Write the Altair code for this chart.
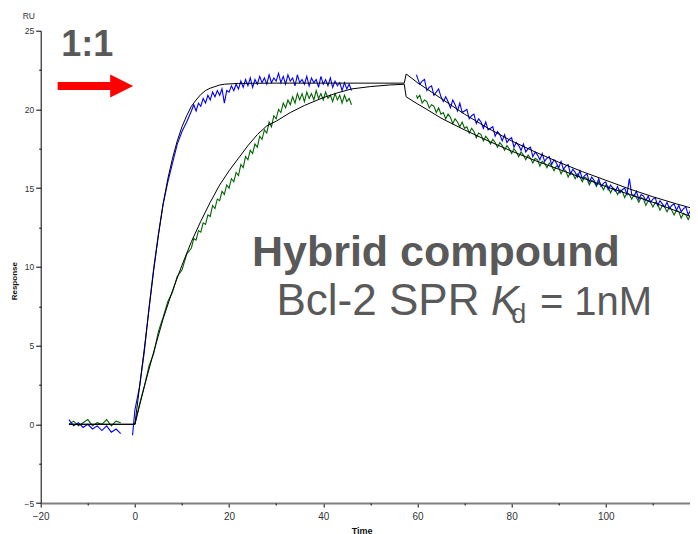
import altair as alt
import pandas as pd

# ---------------- axes ----------------
X_DOMAIN = [-20, 120]
Y_DOMAIN = [-5, 25]
x_major = [-20, 0, 20, 40, 60, 80, 100, 120]
x_minor = [-10, 10, 30, 50, 70, 90, 110]
y_major = [-5, 0, 5, 10, 15, 20, 25]
y_minor = [-2.5, 2.5, 7.5, 12.5, 17.5, 22.5]

# ---------------- measured sensorgram (blue) ----------------
blue_base_t = list(range(-14, -2))
blue_base_v = [0.3, -0.1, 0.1, -0.2, 0.0, -0.3, -0.1, -0.4, -0.1, -0.5, -0.3, -0.6]

blue_rise_t = [-0.5] + list(range(0, 13))
blue_rise_v = [-0.7, 0.9, 2.4, 4.6, 7.4, 9.9, 12.1, 14.0, 15.4, 16.6, 17.8, 18.6,
               19.2, 19.9]

blue_plateau_t = [12.5 + 0.5 * k for k in range(68)]
blue_plateau_v = [20.3, 19.9, 20.4, 20.2, 20.7, 20.4, 20.9, 20.6, 21.1, 20.8,
                  21.2, 20.9, 21.3, 20.4, 21.2, 21.1, 21.5, 21.2, 21.6, 21.3,
                  21.8, 21.4, 21.9, 21.5, 22.0, 21.4, 21.9, 21.6, 22.1, 21.7,
                  22.0, 21.6, 22.2, 21.7, 22.0, 21.8, 22.3, 21.7, 22.1, 21.6,
                  22.2, 21.8, 22.0, 21.5, 22.2, 21.7, 21.9, 21.6, 22.1, 21.5,
                  22.0, 21.7, 21.9, 21.4, 22.1, 21.6, 21.9, 21.5, 22.0, 21.4,
                  21.8, 21.5, 21.7, 21.2, 21.7, 21.3, 21.6, 21.2]

blue_dis_t = [59.8] + [60 + 0.5 * k for k in range(117)]
blue_dis_v = [22.2, 22.0, 21.6, 21.8, 21.9, 21.2, 21.4, 21.5, 20.9, 21.1,
              21.3, 20.8, 20.5, 20.8, 20.5, 20.1, 20.6, 20.3, 19.9, 20.4,
              19.8, 19.9, 20.0, 19.4, 19.6, 19.7, 19.1, 19.4, 19.2, 18.8,
              19.2, 18.7, 18.8, 18.9, 18.3, 18.6, 18.4, 18.0, 18.4, 17.9,
              18.1, 18.2, 17.6, 17.9, 17.7, 17.4, 17.8, 17.3, 17.5, 17.6,
              17.0, 17.3, 17.1, 16.8, 17.2, 16.7, 16.9, 17.0, 16.5, 16.8,
              16.6, 16.3, 16.7, 16.2, 16.4, 16.5, 15.9, 16.2, 16.0, 15.7,
              16.1, 15.6, 15.8, 15.9, 15.4, 15.7, 15.5, 15.2, 15.6, 15.1,
              15.3, 15.4, 14.9, 15.2, 15.0, 14.8, 15.1, 14.7, 14.9, 15.0,
              14.6, 15.6, 14.6, 14.5, 14.8, 14.3, 14.6, 14.5, 14.2, 14.5,
              14.1, 14.3, 14.4, 13.9, 14.2, 14.0, 13.8, 14.1, 13.7, 13.9,
              14.0, 13.6, 13.9, 13.5, 13.7, 13.8, 13.3, 13.6]

# ---------------- measured sensorgram (green) ----------------
green_base_t = list(range(-14, -2))
green_base_v = [0.0, 0.2, -0.1, 0.1, 0.3, -0.1, 0.1, 0.0, 0.3, -0.1, 0.2, 0.1]

green_rise_t = list(range(0, 13))
green_rise_v = [0.0, 1.3, 2.4, 3.7, 4.5, 5.9, 6.8, 7.8, 8.4, 9.4, 9.8, 10.8, 11.2]

green_plateau_t = [12.5 + 0.5 * k for k in range(68)]
green_plateau_v = [11.8, 11.7, 12.3, 12.2, 12.8, 12.7, 13.3, 13.2, 13.9, 13.7,
                   14.3, 14.2, 14.8, 14.6, 15.2, 15.0, 15.6, 15.4, 16.0, 15.8,
                   16.5, 16.3, 17.0, 16.8, 17.4, 17.2, 17.8, 17.6, 18.3, 18.1,
                   18.7, 18.5, 19.2, 18.9, 19.6, 19.4, 20.0, 19.8, 20.4, 20.1,
                   20.6, 20.3, 20.8, 20.4, 21.0, 20.6, 21.0, 20.5, 21.1, 20.7,
                   21.0, 20.6, 21.2, 20.7, 21.0, 20.6, 21.1, 20.7, 20.9, 20.5,
                   21.0, 20.6, 20.9, 20.4, 20.9, 20.5, 20.7, 20.3]

green_dis_t = [59.8] + [60 + 0.5 * k for k in range(117)]
green_dis_v = [20.9, 20.7, 20.9, 20.4, 20.6, 20.5, 20.1, 20.3, 20.2, 19.8,
               20.1, 19.7, 19.8, 19.4, 19.7, 19.5, 19.1, 19.4, 19.2, 18.9,
               19.2, 18.8, 18.9, 18.5, 18.8, 18.6, 18.2, 18.5, 18.4, 18.0,
               18.3, 18.1, 17.8, 18.1, 17.9, 17.6, 17.9, 17.7, 17.4, 17.7,
               17.5, 17.2, 17.5, 17.3, 17.0, 17.3, 17.1, 16.8, 17.1, 16.9,
               16.6, 16.9, 16.8, 16.4, 16.7, 16.6, 16.3, 16.6, 16.4, 16.1,
               16.4, 16.3, 15.9, 16.2, 16.1, 15.7, 16.0, 15.9, 15.6, 15.9,
               15.7, 15.4, 15.7, 15.6, 15.2, 15.5, 15.4, 15.1, 15.4, 15.2,
               14.9, 15.2, 15.1, 14.7, 15.0, 14.9, 14.6, 14.9, 14.8, 14.4,
               14.7, 14.6, 14.3, 14.6, 14.4, 14.1, 14.4, 14.3, 13.9, 14.2,
               14.1, 13.8, 14.1, 14.0, 13.6, 13.9, 13.8, 13.5, 13.8, 13.6,
               13.3, 13.6, 13.5, 13.1, 13.4, 13.3, 13.0, 13.3]

# ---------------- 1:1 model fits (black) ----------------
fit1_t = [-14, 0, 1, 2, 3, 4, 5, 6, 7, 8, 9, 10, 11, 12, 13, 14, 15, 16, 17, 18,
          19, 20, 22, 25, 30, 57.2, 57.6, 60, 62, 65, 70, 75, 80, 85, 90, 95,
          100, 105, 110, 115, 118]
fit1_v = [0, 0, 2.4, 4.8, 7.3, 9.8, 12.0, 14.0, 15.6, 16.9, 18.0, 18.9, 19.6,
          20.2, 20.6, 20.95, 21.2, 21.35, 21.45, 21.55, 21.6, 21.62, 21.65,
          21.66, 21.67, 21.67, 22.25, 21.7, 21.3, 20.7, 19.7, 18.8, 18.0, 17.3,
          16.65, 16.05, 15.5, 14.95, 14.45, 14.0, 13.75]

fit2_t = [-14, 0, 2, 4, 6, 8, 10, 12, 14, 16, 18, 20, 22, 24, 26, 28, 30, 33, 36,
          40, 43, 46, 50, 54, 57.2, 57.6, 60, 62, 65, 70, 75, 80, 85, 90, 95,
          100, 105, 110, 115, 118]
fit2_v = [0, 0, 2.4, 4.6, 6.7, 8.5, 10.1, 11.6, 12.9, 14.1, 15.2, 16.1, 16.9,
          17.7, 18.4, 18.95, 19.25, 19.8, 20.25, 20.75, 21.05, 21.3, 21.45,
          21.55, 21.6, 20.8, 20.35, 20.0, 19.45, 18.7, 18.0, 17.35, 16.75, 16.2,
          15.65, 15.1, 14.6, 14.1, 13.55, 13.2]

# ---------------- annotations (data coordinates) ----------------
ann_text = ["1:1", "Hybrid compound", "Bcl-2 SPR", "K", "d", "= 1nM"]
ann_t = [-15.62, 24.85, 30.07, 75.6, 79.9, 86.0]
ann_v = [23.4, 10.08, 6.97, 6.97, 6.45, 6.97]
arrow_t = [-16.4, -4.8]
arrow_v = [21.49]
arrow_head_t = [-2.8]

# ---------------- build tables ----------------
rows = []


def add(series, seg, ts, vs):
    assert len(ts) == len(vs), (seg, len(ts), len(vs))
    for i, (t, v) in enumerate(zip(ts, vs)):
        rows.append(dict(series=series, seg=seg, i=i, t=t, v=v))


add("green", "g0", green_base_t, green_base_v)
add("blue", "b0", blue_base_t, blue_base_v)
add("green", "g1", green_rise_t + green_plateau_t, green_rise_v + green_plateau_v)
add("blue", "b1", blue_rise_t + blue_plateau_t, blue_rise_v + blue_plateau_v)
add("green", "g2", green_dis_t, green_dis_v)
add("blue", "b2", blue_dis_t, blue_dis_v)
data_df = pd.DataFrame(rows)

rows = []
add("fit1", "f1", fit1_t, fit1_v)
add("fit2", "f2", fit2_t, fit2_v)
fit_df = pd.DataFrame(rows)

FONT = "Liberation Sans"
GRAY = "#595959"

xs = alt.Scale(domain=X_DOMAIN, nice=False, zero=False)
ys = alt.Scale(domain=Y_DOMAIN, nice=False, zero=False)

x_axis = alt.Axis(orient="bottom", values=x_major, format="d", tickSize=4,
                  tickColor="#000000", domainColor="#7f7f7f", domainWidth=2,
                  labelFontSize=10, labelColor="#333333", labelPadding=4,
                  labelFlush=False, labelOverlap=False, grid=False,
                  title="Time", titleFontSize=9, titleFontWeight="bold",
                  titleColor="#111111", titlePadding=5, titleX=321)
y_axis = alt.Axis(orient="left", values=y_major, format="d", tickSize=5,
                  tickColor="#000000", domainColor="#000000", domainWidth=1,
                  labelFontSize=8.5, labelColor="#333333", labelPadding=2,
                  labelFlush=False, labelOverlap=False, grid=False,
                  title="Response", titleFontSize=8, titleFontWeight="bold",
                  titleColor="#111111", titleAngle=270, titleX=-26, titleY=250,
                  titleAlign="center", titleBaseline="middle")
x_minor_axis = alt.Axis(orient="bottom", values=x_minor, labels=False,
                        domain=False, tickSize=2, tickColor="#000000",
                        grid=False, title=None)
y_minor_axis = alt.Axis(orient="left", values=y_minor, labels=False,
                        domain=False, tickSize=2, tickColor="#000000",
                        grid=False, title=None)

data_layer = alt.Chart(data_df).mark_line(strokeWidth=1.1).encode(
    x=alt.X("t:Q", scale=xs, axis=x_axis),
    y=alt.Y("v:Q", scale=ys, axis=y_axis),
    color=alt.Color("series:N",
                    scale=alt.Scale(domain=["blue", "green"],
                                    range=["#0000ff", "#006400"]),
                    legend=None),
    detail="seg:N",
    order="i:Q",
)

fit_layer = alt.Chart(fit_df).mark_line(strokeWidth=1, color="#000000").encode(
    x=alt.X("t:Q", scale=xs, axis=None),
    y=alt.Y("v:Q", scale=ys, axis=None),
    detail="seg:N",
    order="i:Q",
)

minor_df = pd.DataFrame({"t": [X_DOMAIN[0]], "v": [Y_DOMAIN[0]]})
minor_layer = alt.Chart(minor_df).mark_point(opacity=0).encode(
    x=alt.X("t:Q", scale=xs, axis=x_minor_axis),
    y=alt.Y("v:Q", scale=ys, axis=y_minor_axis),
)


def text_layer(idx, size, weight="normal", style="normal"):
    df = pd.DataFrame({"t": [ann_t[idx]], "v": [ann_v[idx]],
                       "label": [ann_text[idx]]})
    return alt.Chart(df).mark_text(
        align="left", baseline="alphabetic", font=FONT, fontSize=size,
        fontWeight=weight, fontStyle=style, color=GRAY,
    ).encode(
        x=alt.X("t:Q", scale=xs, axis=None),
        y=alt.Y("v:Q", scale=ys, axis=None),
        text="label:N",
    )


arrow_df = pd.DataFrame({"t": [arrow_t[0]], "t2": [arrow_t[1]],
                         "v": arrow_v})
arrow_shaft = alt.Chart(arrow_df).mark_rule(color="#ff0000", strokeWidth=8).encode(
    x=alt.X("t:Q", scale=xs, axis=None),
    x2="t2:Q",
    y=alt.Y("v:Q", scale=ys, axis=None),
)
head_df = pd.DataFrame({"t": arrow_head_t, "v": arrow_v})
arrow_head = alt.Chart(head_df).mark_point(
    shape="M -1 -1 L 1 0 L -1 1 Z", size=529, filled=True, color="#ff0000",
    opacity=1, strokeWidth=0,
).encode(
    x=alt.X("t:Q", scale=xs, axis=None),
    y=alt.Y("v:Q", scale=ys, axis=None),
)

chart = alt.layer(
    data_layer,
    fit_layer,
    minor_layer,
    arrow_shaft,
    arrow_head,
    text_layer(0, 36, "bold"),
    text_layer(1, 43, "bold"),
    text_layer(2, 44),
    text_layer(3, 42, "normal", "italic"),
    text_layer(4, 27),
    text_layer(5, 40),
).resolve_axis(
    x="independent", y="independent"
).properties(
    width=659.3,
    height=472.3,
    autosize=alt.AutoSizeParams(type="none"),
    padding={"left": 32.7, "top": 22.7, "right": -10, "bottom": 31},
    title=alt.TitleParams("RU", anchor="start", frame="group", fontSize=8.5,
                          fontWeight="normal", color="#333333", offset=6.5,
                          dx=-18, font=FONT),
).configure(
    font=FONT,
    background="#ffffff",
).configure_view(
    stroke=None,
).configure_axis(
    labelFont=FONT,
    titleFont=FONT,
)

chart.save("out.html", embed_options={"renderer": "svg", "actions": False})
